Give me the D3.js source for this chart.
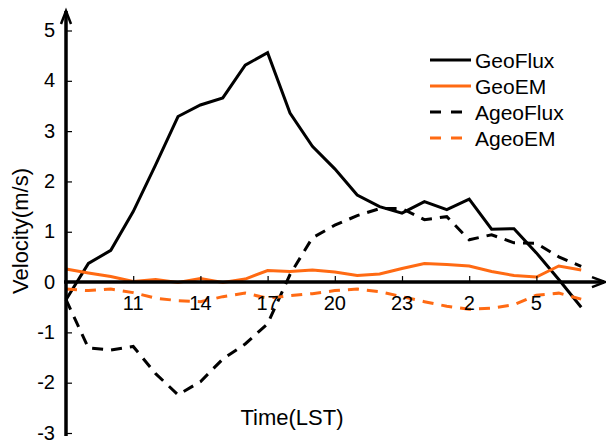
<!DOCTYPE html>
<html>
<head>
<meta charset="utf-8">
<script src="https://cdn.jsdelivr.net/npm/d3@7"></script>
<style>
  body { margin: 0; background: #fff; }
  svg text { font-family: "Liberation Sans", Arial, sans-serif; fill: #000; }
</style>
</head>
<body>
<svg id="chart" width="606" height="442"></svg>
<script>
// hourly series, 8 LST through 7 LST next day (hour 24+ = next day)
const hours = d3.range(8, 32);
const geoFlux = [-0.35, 0.37, 0.63, 1.4, 2.33, 3.29, 3.52, 3.66, 4.31, 4.56, 3.36, 2.7, 2.25, 1.73, 1.5, 1.37, 1.6, 1.44, 1.65, 1.05, 1.06, 0.58, 0.05, -0.5];
const geoEM = [0.26, 0.18, 0.11, 0.01, 0.05, -0.01, 0.07, -0.01, 0.06, 0.23, 0.21, 0.24, 0.2, 0.13, 0.16, 0.27, 0.37, 0.35, 0.32, 0.21, 0.13, 0.1, 0.32, 0.24];
const ageoFlux = [-0.35, -1.31, -1.35, -1.28, -1.82, -2.24, -1.98, -1.53, -1.23, -0.83, 0.15, 0.88, 1.13, 1.32, 1.46, 1.46, 1.24, 1.3, 0.84, 0.94, 0.78, 0.77, 0.5, 0.31];
const ageoEM = [-0.14, -0.17, -0.14, -0.21, -0.32, -0.37, -0.39, -0.29, -0.22, -0.32, -0.27, -0.23, -0.17, -0.14, -0.19, -0.29, -0.39, -0.48, -0.54, -0.52, -0.45, -0.26, -0.22, -0.34];
const xTicks = [11, 14, 17, 20, 23, 26, 29];
const yTicks = [-3, -2, -1, 1, 2, 3, 4, 5];

const series = [
  { name: "GeoFlux", values: geoFlux, color: "#000", dash: null },
  { name: "GeoEM", values: geoEM, color: "#ff6a13", dash: null },
  { name: "AgeoFlux", values: ageoFlux, color: "#000", dash: "11,8" },
  { name: "AgeoEM", values: ageoEM, color: "#ff6a13", dash: "11,8" }
];

const svg = d3.select("#chart");

const x = d3.scaleLinear().domain([8, 31]).range([66, 581.2]);
const y = d3.scaleLinear().domain([-3, 5]).range([433, 30.5]);

// lines
const line = d3.line()
    .x((d, i) => x(hours[i]))
    .y(d => y(d));

series.forEach(s => {
  svg.append("path")
      .datum(s.values)
      .attr("fill", "none")
      .attr("stroke", s.color)
      .attr("stroke-width", 3)
      .attr("stroke-dasharray", s.dash)
      .attr("stroke-linejoin", "miter")
      .attr("d", line);
});

// y axis
const yAxis = d3.axisRight(y)
    .tickValues(yTicks)
    .tickSize(6)
    .tickFormat("");
const gy = svg.append("g").attr("transform", "translate(66,0)").call(yAxis);
gy.select(".domain").remove();
gy.selectAll(".tick line").attr("stroke", "#000").attr("stroke-width", 1.2);

svg.append("line")
    .attr("x1", 66).attr("x2", 66)
    .attr("y1", 436).attr("y2", 11)
    .attr("stroke", "#000").attr("stroke-width", 3.5);
svg.append("path")
    .attr("d", "M61,24 L66,11 L71,24")
    .attr("fill", "none").attr("stroke", "#000").attr("stroke-width", 2.5);

svg.selectAll(".ylab")
    .data(yTicks.concat([0]))
    .enter().append("text")
    .attr("class", "ylab")
    .attr("x", 55)
    .attr("y", d => y(d) + 6.5)
    .attr("text-anchor", "end")
    .attr("font-size", 20)
    .text(d => d);

// x axis at zero
const xAxis = d3.axisTop(x)
    .tickValues(xTicks)
    .tickSize(6)
    .tickFormat("");
const gx = svg.append("g").attr("transform", "translate(0," + y(0) + ")").call(xAxis);
gx.select(".domain").remove();
gx.selectAll(".tick line").attr("stroke", "#000").attr("stroke-width", 1.2);

svg.append("line")
    .attr("x1", 64).attr("x2", 604)
    .attr("y1", y(0)).attr("y2", y(0))
    .attr("stroke", "#000").attr("stroke-width", 3.5);
svg.append("path")
    .attr("d", "M592," + (y(0) - 5) + " L605," + y(0) + " L592," + (y(0) + 5))
    .attr("fill", "none").attr("stroke", "#000").attr("stroke-width", 2.5);

svg.selectAll(".xlab")
    .data(xTicks)
    .enter().append("text")
    .attr("class", "xlab")
    .attr("x", d => x(d))
    .attr("y", y(0) + 28)
    .attr("text-anchor", "middle")
    .attr("font-size", 20)
    .text(d => d % 24);

// axis titles
svg.append("text")
    .attr("x", 292)
    .attr("y", 425)
    .attr("text-anchor", "middle")
    .attr("font-size", 22)
    .text("Time(LST)");

svg.append("text")
    .attr("transform", "translate(28,231) rotate(-90)")
    .attr("text-anchor", "middle")
    .attr("font-size", 22)
    .text("Velocity(m/s)");

// legend
const legend = svg.append("g").attr("transform", "translate(430,60)");
series.forEach((s, i) => {
  legend.append("line")
      .attr("x1", 0).attr("x2", 41)
      .attr("y1", i * 26).attr("y2", i * 26)
      .attr("stroke", s.color)
      .attr("stroke-width", 3)
      .attr("stroke-dasharray", s.dash ? "11,10" : null);
  legend.append("text")
      .attr("x", 45)
      .attr("y", i * 26 + 7.5)
      .attr("font-size", 21)
      .text(s.name);
});
</script>
</body>
</html>
